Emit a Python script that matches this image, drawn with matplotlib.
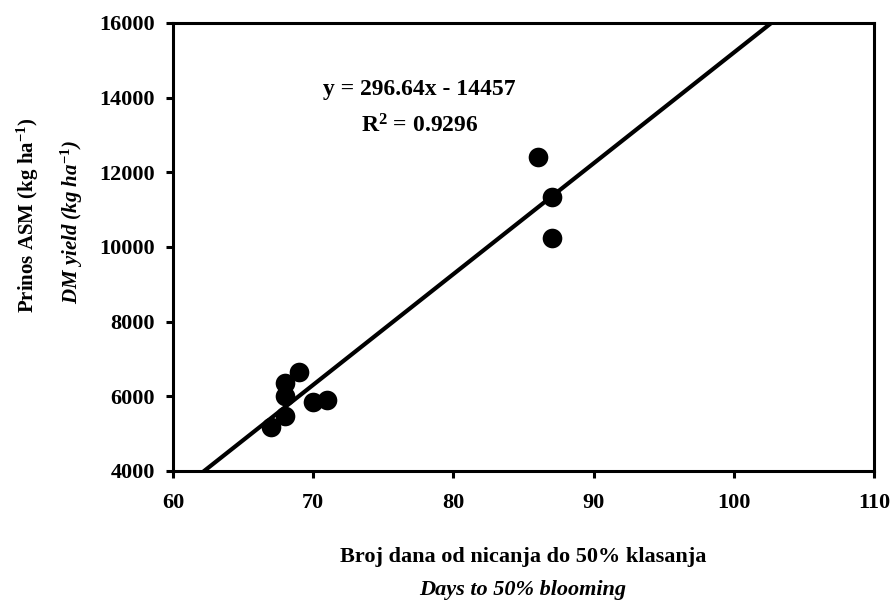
import numpy as np
import matplotlib
matplotlib.use("Agg")
import matplotlib.pyplot as plt

# ---- data ----
days = [86, 87, 87, 69, 68, 68, 68, 67, 70, 71]
yield_dm = [12400, 11350, 10250, 6650, 6350, 6000, 5470, 5170, 5850, 5900]

slope = 296.64
intercept = -14457
r2 = 0.9296

xticks = [60, 70, 80, 90, 100, 110]
yticks = [4000, 6000, 8000, 10000, 12000, 14000, 16000]

# ---- fonts ----
plt.rcParams['font.family'] = ['Liberation Serif', 'DejaVu Serif']
plt.rcParams['font.weight'] = 'bold'
plt.rcParams['mathtext.fontset'] = 'custom'
plt.rcParams['mathtext.rm'] = 'Liberation Serif:bold'
plt.rcParams['mathtext.it'] = 'Liberation Serif:italic:bold'
plt.rcParams['mathtext.bf'] = 'Liberation Serif:bold'

W, H = 895, 603
fig = plt.figure(figsize=(W / 100, H / 100), dpi=100)
ax = fig.add_axes([173 / W, 1 - 471 / H, (874 - 173) / W, (471 - 23) / H])

# scatter
ax.scatter(days, yield_dm, s=200, color='black', zorder=3, linewidths=0)

# regression line
xl = np.array([60, 110])
ax.plot(xl, slope * xl + intercept, color='black', lw=3, zorder=2)

ax.set_xlim(60, 110)
ax.set_ylim(4000, 16000)
ax.set_xticks(xticks)
ax.set_yticks(yticks)
ax.tick_params(direction='out', length=5, width=2.2, labelsize=16)
ax.tick_params(axis='x', pad=11)
ax.tick_params(axis='y', pad=8)
for sp in ax.spines.values():
    sp.set_linewidth(2.2)

# equation
ax.text(77.6, 14230, "y = %.2fx - %d" % (slope, -intercept), ha='center', va='center',
        fontsize=17, fontweight='bold')
ax.text(77.6, 13250, "R$^{2}$ = %.4f" % r2, ha='center', va='center',
        fontsize=17, fontweight='bold')

# axis titles
fig.text(523 / W, 1 - 557 / H, "Broj dana od nicanja do 50% klasanja", ha='center', va='center',
         fontsize=16, fontweight='bold')
fig.text(523 / W, 1 - 590 / H, "Days to 50% blooming", ha='center', va='center',
         fontsize=16, fontweight='bold', style='italic')
fig.text(28 / W, 1 - 215 / H, "Prinos ASM (kg ha$^{-1}$)", ha='center', va='center',
         rotation=90, fontsize=15, fontweight='bold')
fig.text(72 / W, 1 - 222 / H, "DM yield (kg ha$^{-1}$)", ha='center', va='center',
         rotation=90, fontsize=15, fontweight='bold', style='italic')

fig.savefig("out.png", dpi=100)
